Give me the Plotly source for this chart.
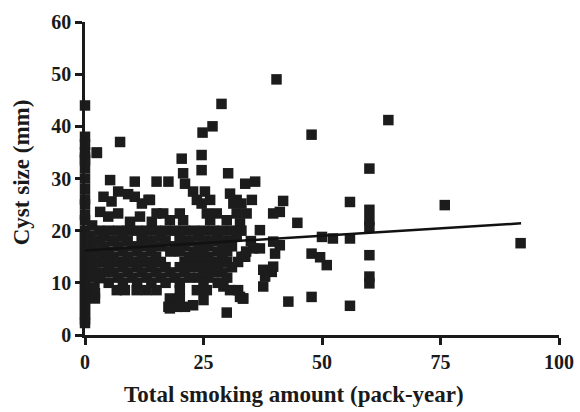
import plotly.graph_objects as go

# --- data ---
pts_zero_col_y = [44, 38, 36.5, 35, 34, 33.5, 32, 30, 28, 26, 25, 23, 22, 20, 19, 18, 17, 16, 15,
                  14, 13, 12, 11, 10, 9, 8, 7, 6, 5, 4, 3, 2.3]

scatter_x = [
    # near x=1-3
    1, 1, 1, 1.5, 1, 2, 1.5, 2, 2, 2.5, 2, 2, 2.1, 3.2,
    # upper scattered points
    5.3, 10.5, 15.1, 17.6, 20.7, 30.2, 20.4, 24.6, 24.6, 24.8, 26.9, 28.8, 7.4, 2.5,
    3.9, 7.0, 9.1, 10.5, 12.0, 13.4, 5.6, 22.8, 25.3, 24.6, 30.6, 31.3, 33.8, 32.7,
    3.2, 4.9, 7.0, 9.5, 11.6, 14.1, 15.1, 16.5, 20.0, 25.7, 27.8, 32.0, 17.9, 20.7, 26.4, 29.9,
    23.6, 26.4, 32.0, 13.7, 21.1,
    # mid/right points
    35.9, 35.2, 34.1, 41.8, 41.1, 39.7, 44.8, 36.9, 55.9, 60, 60, 60, 60, 40.4, 47.8, 64.0, 33.0,
    50.0, 52.3, 55.9, 47.8, 49.6, 51.0, 60, 60, 60, 47.8, 42.9, 55.9, 33.3, 37.6, 37.6, 39.4, 39.7,
    38.0, 39.7, 41.1, 40.1, 35.5, 36.9, 33.8, 32.3, 75.9, 91.9,
    # dense block rows
    3, 5, 7, 9, 11, 13, 15, 17, 19, 21, 23, 25, 27, 29, 31, 33,
    4, 8, 12, 16, 20, 24, 28, 32,
    3, 6, 9, 12, 14, 17, 20, 22, 25, 27, 30, 35,
    4, 7, 10, 13, 16, 19, 21, 24, 26, 29, 31,
    3, 5, 8, 11, 14, 18, 20, 23, 25, 28, 30, 34,
    4, 6, 9, 12, 15, 22, 24, 26, 29, 33,
    3, 7, 10, 13, 16, 21, 23, 25, 27, 30,
    5, 8, 11, 14, 17, 20, 22, 24, 26, 28, 31,
    4, 6, 9, 12, 15, 18, 21, 25, 27, 29,
    3, 7, 10, 13, 16, 19, 22, 24, 26, 30,
    5, 8, 11, 14, 17, 20, 25, 28,
    6.7, 8.4, 10.9, 13.0, 15.1, 20.0, 23.6, 25.7, 30.6, 32.3, 29.2,
    2.1, 17.9, 20.0, 33.4, 22.8, 25.0,
    17.6, 19.3, 21.1, 17.9, 29.9, 32.7,
]
scatter_y = [
    19, 17, 15, 13, 11, 9, 21, 18, 16, 35, 14, 12, 8, 10.9,
    29.7, 29.4, 29.4, 29.4, 31.0, 31.0, 33.8, 34.5, 31.6, 38.8, 40.0, 44.3, 37.0, 34.9,
    26.5, 27.5, 27.0, 26.5, 25.2, 25.9, 25.6, 27.5, 27.5, 25.2, 27.1, 25.2, 29.0, 21.4,
    23.6, 22.7, 23.3, 21.7, 22.7, 21.7, 23.3, 23.3, 23.3, 23.3, 23.3, 23.3, 22.0, 22.0, 22.0, 22.0,
    25.9, 25.9, 25.9, 25.9, 29.0,
    29.4, 25.9, 23.3, 25.7, 23.6, 23.3, 21.5, 20.1, 25.5, 24.0, 22.0, 20.7, 31.9, 49.0, 38.4, 41.2, 25.2,
    18.8, 18.5, 18.5, 15.6, 14.9, 13.4, 15.3, 11.2, 9.9, 7.3, 6.4, 5.6, 7.0, 9.3, 12.5, 12.1, 13.1,
    11.2, 17.9, 17.2, 15.6, 16.6, 16.6, 15.0, 14.0, 24.9, 17.6,
    20, 20, 20, 20, 20, 20, 20, 20, 20, 20, 20, 20, 20, 20, 20, 20,
    19, 19, 19, 19, 19, 19, 19, 19,
    18, 18, 18, 18, 18, 18, 18, 18, 18, 18, 18, 18,
    17, 17, 17, 17, 17, 17, 17, 17, 17, 17, 17,
    16, 16, 16, 16, 16, 16, 16, 16, 16, 16, 16, 16,
    15, 15, 15, 15, 15, 15, 15, 15, 15, 15,
    14, 14, 14, 14, 14, 14, 14, 14, 14, 14,
    13, 13, 13, 13, 13, 13, 13, 13, 13, 13, 13,
    12, 12, 12, 12, 12, 12, 12, 12, 12, 12,
    11, 11, 11, 11, 11, 11, 11, 11, 11, 11,
    10, 10, 10, 10, 10, 10, 10, 10,
    8.6, 8.6, 8.6, 8.6, 8.6, 8.6, 8.6, 8.6, 8.6, 8.6, 9.3,
    7.0, 7.0, 7.0, 7.0, 5.7, 6.7,
    5.4, 5.4, 5.4, 5.1, 4.3, 7.3,
]

fit_x = [0, 92]
fit_y = [16.2, 21.4]

x_ticks = [0, 25, 50, 75, 100]
y_ticks = [0, 10, 20, 30, 40, 50, 60]
x_title = "Total smoking amount (pack-year)"
y_title = "Cyst size (mm)"

all_x = [0] * len(pts_zero_col_y) + scatter_x
all_y = pts_zero_col_y + scatter_y

fig = go.Figure()
fig.add_trace(go.Scatter(
    x=all_x, y=all_y, mode="markers",
    marker=dict(symbol="square", size=10.5, color="#1c1c1c", line=dict(width=0)),
    cliponaxis=False, showlegend=False, hoverinfo="skip",
))
fig.add_trace(go.Scatter(
    x=fit_x, y=fit_y, mode="lines",
    line=dict(color="#111111", width=2.5),
    cliponaxis=False, showlegend=False, hoverinfo="skip",
))

font_family = "Liberation Serif, Times New Roman, serif"
fig.update_layout(
    width=580, height=412,
    margin=dict(l=85, r=21, t=22, b=77),
    paper_bgcolor="white", plot_bgcolor="white",
    font=dict(family=font_family, color="#1a1a1a"),
    annotations=[
        dict(text=f"<b>{x_title}</b>", xref="paper", yref="paper", x=0.44, y=-0.19,
             xanchor="center", yanchor="middle", showarrow=False,
             font=dict(size=23, family=font_family, color="#1a1a1a")),
        dict(text=f"<b>{y_title}</b>", xref="paper", yref="paper", x=-0.135, y=0.52,
             xanchor="center", yanchor="middle", showarrow=False, textangle=-90,
             font=dict(size=23, family=font_family, color="#1a1a1a")),
    ],
)
fig.update_xaxes(
    range=[0, 100], tickvals=x_ticks, ticktext=[f"<b>{v}</b>" for v in x_ticks],
    showgrid=False, zeroline=False, showline=True, linecolor="#1a1a1a", linewidth=2.5,
    ticks="outside", ticklen=7, tickwidth=2.5, tickcolor="#1a1a1a", automargin=False,
    tickfont=dict(size=20, family=font_family),
)
fig.update_yaxes(
    range=[0, 60], tickvals=y_ticks, ticktext=[f"<b>{v}</b>" for v in y_ticks],
    showgrid=False, zeroline=False, showline=True, linecolor="#1a1a1a", linewidth=2.5,
    ticks="outside", ticklen=7, tickwidth=2.5, tickcolor="#1a1a1a", automargin=False,
    tickfont=dict(size=20, family=font_family),
)

fig.write_html("out.html", config={"displayModeBar": False},
               post_script="document.body.style.margin='0';")
